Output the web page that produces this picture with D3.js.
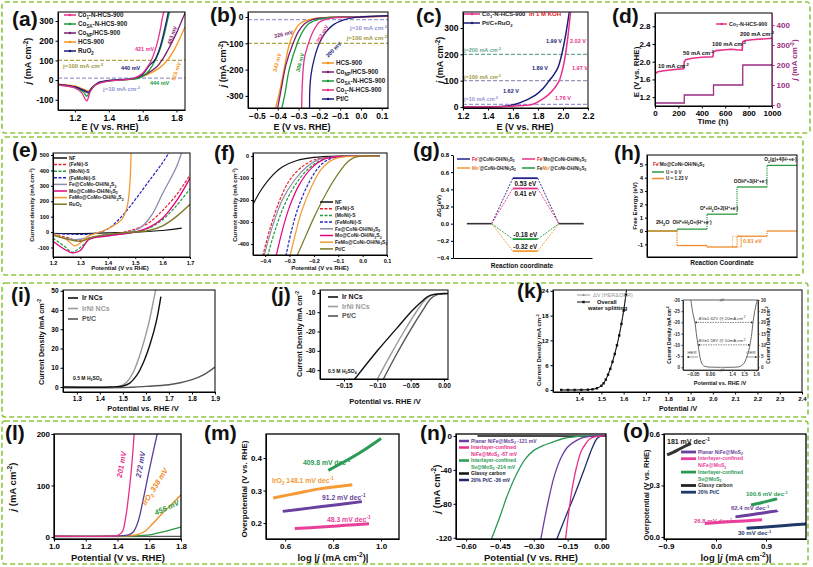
<!DOCTYPE html>
<html><head><meta charset="utf-8">
<script src="https://cdnjs.cloudflare.com/ajax/libs/d3/7.8.5/d3.min.js"></script>
<style>body{margin:0;background:#fff}svg{display:block}</style>
</head><body><script>
// ================= DATA =================
// (a) OER LSV
const aNames=["Co_{1}-N-HCS-900","Co_{SA}-N-HCS-900","Co_{NP}/HCS-900","HCS-900","RuO_{2}"];
const aCo1=[[1.1,-25],[1.15,-30],[1.2,-40],[1.24,-65],[1.27,-105],[1.29,-60],[1.32,-25],[1.4,-5],[1.5,2],[1.55,10],[1.6,35],[1.63,70],[1.651,100],[1.68,170],[1.7,240],[1.72,330],[1.73,360]];
const aCoSA=[[1.1,-25],[1.2,-38],[1.25,-60],[1.27,-82],[1.29,-55],[1.33,-20],[1.4,-5],[1.5,2],[1.58,10],[1.63,40],[1.674,100],[1.7,150],[1.73,240],[1.76,350],[1.77,370]];
const aCoNP=[[1.1,-22],[1.2,-35],[1.26,-58],[1.28,-65],[1.3,-40],[1.34,-15],[1.4,-3],[1.55,8],[1.62,30],[1.68,65],[1.713,100],[1.76,170],[1.8,240],[1.84,320],[1.86,360]];
const aHCS=[[1.1,-20],[1.2,-30],[1.26,-50],[1.28,-55],[1.31,-30],[1.35,-10],[1.45,0],[1.55,6],[1.62,25],[1.7,62],[1.745,100],[1.79,160],[1.85,270]];
const aRuO2=[[1.1,-22],[1.2,-35],[1.26,-55],[1.28,-62],[1.3,-40],[1.34,-12],[1.4,-2],[1.55,10],[1.6,30],[1.64,75],[1.67,100],[1.7,160],[1.73,260],[1.755,360]];
// (b) HER LSV
const bNames=["HCS-900","Co_{NP}/HCS-900","Co_{SA}-N-HCS-900","Co_{1}-N-HCS-900","Pt/C"];
const bHCS=[[-0.41,-345],[-0.39,-280],[-0.37,-200],[-0.343,-100],[-0.32,-55],[-0.3,-30],[-0.27,-15],[-0.22,-5],[-0.15,-1],[0.0,0],[0.13,2]];
const bCoNP=[[-0.40,-345],[-0.38,-260],[-0.36,-180],[-0.326,-100],[-0.3,-55],[-0.27,-25],[-0.23,-9],[-0.17,-3],[-0.1,0],[0.13,3]];
const bCoSA=[[-0.38,-345],[-0.365,-290],[-0.345,-200],[-0.306,-100],[-0.28,-55],[-0.25,-25],[-0.2,-8],[-0.14,-2],[-0.05,0],[0.13,4]];
const bCo1=[[-0.285,-345],[-0.283,-280],[-0.278,-200],[-0.27,-150],[-0.252,-100],[-0.23,-55],[-0.2,-20],[-0.16,-7],[-0.1,-2],[0,0],[0.13,4]];
const bPtC=[[-0.247,-345],[-0.246,-280],[-0.24,-220],[-0.225,-160],[-0.2,-100],[-0.17,-58],[-0.13,-28],[-0.08,-10],[-0.04,-3],[0,0],[0.13,5]];
// (c) overall water splitting
const cCo1=[[1.2,0],[1.5,1],[1.6,3],[1.7,6],[1.76,10],[1.82,25],[1.88,45],[1.93,70],[1.97,100],[2.0,150],[2.02,200],[2.04,270],[2.06,360]];
const cPtRu=[[1.2,0],[1.45,1],[1.55,4],[1.62,10],[1.7,25],[1.78,45],[1.84,70],[1.89,100],[1.93,125],[1.96,150],[1.99,200],[2.02,270],[2.05,360]];
// (d) stability
const dE=[[0,1.72],[20,1.77],[60,1.79],[150,1.82],[245,1.84],[250,2.0],[265,2.05],[320,2.08],[400,2.1],[495,2.11],[500,2.22],[520,2.25],[600,2.27],[650,2.28],[700,2.27],[745,2.26],[750,2.45],[770,2.48],[850,2.5],[950,2.52],[1000,2.53]];
const dJ=[[0,10],[250,10],[250,50],[500,50],[500,100],[750,100],[750,200],[1000,200]];
const dLabels=["10 mA cm^{-2}","50 mA cm^{-2}","100 mA cm^{-2}","200 mA cm^{-2}"];
// (e) OER
const eNames=["NF","(FeNi)-S","(MoNi)-S","(FeMoNi)-S","Fe@CoMo-OH/Ni_{3}S_{2}","Mo@CoMo-OH/Ni_{3}S_{2}","FeMo@CoMo-OH/Ni_{3}S_{2}","RuO_{2}"];
const eNF=[[1.2,-8],[1.3,-10],[1.4,-5],[1.5,0],[1.6,10],[1.67,25]];
const eFeNiS=[[1.2,-15],[1.25,-35],[1.29,-55],[1.33,-40],[1.4,-20],[1.45,-5],[1.5,20],[1.55,60],[1.6,140],[1.65,240],[1.7,370]];
const eMoNiS=[[1.2,-40],[1.24,-90],[1.27,-130],[1.3,-100],[1.34,-40],[1.4,-20],[1.5,0],[1.55,25],[1.6,80],[1.65,170],[1.7,280]];
const eFeMoNiS=[[1.2,-10],[1.28,-15],[1.32,-15],[1.35,-10],[1.4,20],[1.45,100],[1.5,210],[1.55,330],[1.6,450],[1.625,520]];
const eFe=[[1.2,-20],[1.28,-50],[1.32,-40],[1.4,-25],[1.48,0],[1.52,30],[1.56,110],[1.6,250],[1.65,420],[1.67,520]];
const eMo=[[1.2,-60],[1.24,-110],[1.27,-135],[1.3,-120],[1.33,-50],[1.4,-25],[1.5,0],[1.55,30],[1.6,90],[1.65,200],[1.7,350]];
const eFeMo=[[1.2,-10],[1.25,-50],[1.28,-90],[1.3,-70],[1.33,-25],[1.38,5],[1.42,40],[1.45,80],[1.47,160],[1.48,300],[1.485,520]];
const eRuO2=[[1.2,-20],[1.3,-60],[1.35,-30],[1.45,-5],[1.55,10],[1.6,40],[1.65,100],[1.7,180]];
// (f) HER
const fNames=["NF","(FeNi)-S","(MoNi)-S","(FeMoNi)-S","Fe@CoNi-OH/Ni_{3}S_{2}","Mo@CoNi-OH/Ni_{3}S_{2}","FeMo@CoNi-OH/Ni_{3}S_{2}","Pt/C"];
const fNF=[[-0.45,-220],[-0.42,-160],[-0.38,-100],[-0.33,-50],[-0.27,-20],[-0.2,-6],[-0.1,0],[0.07,0]];
const fFeNiS=[[-0.41,-455],[-0.38,-330],[-0.34,-200],[-0.3,-110],[-0.25,-50],[-0.2,-18],[-0.12,-3],[-0.05,0],[0.07,0]];
const fMoNiS=[[-0.39,-455],[-0.36,-340],[-0.32,-220],[-0.27,-120],[-0.22,-55],[-0.17,-18],[-0.1,-3],[0.07,0]];
const fFeMoNiS=[[-0.315,-455],[-0.29,-330],[-0.26,-220],[-0.22,-120],[-0.18,-50],[-0.14,-15],[-0.08,-2],[0.07,0]];
const fFe=[[-0.405,-455],[-0.37,-320],[-0.33,-200],[-0.28,-110],[-0.23,-50],[-0.18,-15],[-0.1,-2],[0.07,0]];
const fMo=[[-0.355,-455],[-0.33,-340],[-0.3,-230],[-0.26,-130],[-0.21,-55],[-0.16,-15],[-0.1,-3],[0.07,0]];
const fFeMo=[[-0.298,-455],[-0.275,-350],[-0.25,-250],[-0.21,-140],[-0.17,-60],[-0.12,-15],[-0.07,-3],[0.07,-2]];
const fPtC=[[-0.27,-455],[-0.24,-380],[-0.2,-280],[-0.15,-170],[-0.1,-80],[-0.06,-25],[-0.03,-5],[0.0,0],[0.07,0]];
// (g) ΔG
const gStages=[0,1,2];
const gNames=["[#d8202a|Fe']@CoNi-OH/Ni_{3}S_{2}","[#d8202a|Fe']Mo@CoNi-OH/Ni_{3}S_{2}","[#e87a20|Mo']@CoNi-OH/Ni_{3}S_{2}","Fe[#e87a20|Mo']@CoNi-OH/Ni_{3}S_{2}"];
const gLevels=[0.53,0.41,-0.32,-0.18];
// (h) free energy
const hSteps=["2H_{2}O","OH*+H_{2}O+(H^{+}+e^{-})","O*+H_{2}O+2(H^{+}+e^{-})","OOH*+3(H^{+}+e^{-})","O_{2}(g)+4(H^{+}+e^{-})"];
const hU0=[0,0.14,1.26,3.3,4.92];
const hU123=[0,-1.09,-1.2,-0.39,0];
// (i) OER acid
const iNames=["Ir NCs","IrNi NCs","Pt/C"];
const iIr=[[1.24,0],[1.45,0],[1.5,0.5],[1.53,2],[1.56,6],[1.59,13],[1.62,23],[1.645,34],[1.665,47]];
const iIrNi=[[1.24,0],[1.45,0],[1.49,0.5],[1.52,3],[1.55,9],[1.58,19],[1.61,32],[1.635,46],[1.645,52]];
const iPtC=[[1.24,-0.4],[1.5,-0.3],[1.6,0.3],[1.7,1.2],[1.75,2.2],[1.8,3.8],[1.85,6.3],[1.9,10.3]];
// (j) HER acid
const jIr=[[-0.137,-46],[-0.1,-30],[-0.07,-18],[-0.05,-10],[-0.035,-5],[-0.025,-2],[-0.015,-0.8],[0,-0.3],[0.01,-0.3]];
const jIrNi=[[-0.102,-46],[-0.08,-32],[-0.06,-20],[-0.04,-9],[-0.028,-3.5],[-0.018,-1.2],[-0.005,-0.5],[0.01,-0.4]];
const jPtC=[[-0.093,-46],[-0.07,-31],[-0.05,-19],[-0.03,-8],[-0.02,-3],[-0.01,-0.9],[0,-0.5],[0.01,-0.4]];
// (k) overall + inset
const kOverall=[[1.32,0],[1.35,0],[1.38,0],[1.41,0.02],[1.44,0.06],[1.46,0.15],[1.48,0.4],[1.5,1.0],[1.51,1.6],[1.52,2.5],[1.53,3.7],[1.54,5.1],[1.55,6.8],[1.56,8.7],[1.57,10.8],[1.58,13.2],[1.59,16.0],[1.6,19.2],[1.61,23.0],[1.615,25]];
const kDeltaV=[[1.32,0],[1.4,0],[1.45,0.1],[1.48,0.45],[1.5,1.1],[1.52,2.6],[1.54,5.2],[1.56,8.8],[1.58,13.3],[1.6,19.3],[1.615,25]];
const kInHER=[[-0.056,30],[-0.05,24],[-0.044,20],[-0.04,15],[-0.035,10],[-0.031,6],[-0.027,3],[-0.022,1.2],[-0.015,0.4],[0,0.1],[0.035,0]];
const kInOER=[[1.317,0],[1.42,0.05],[1.47,0.4],[1.5,1.8],[1.52,4],[1.54,7.5],[1.55,10],[1.565,15],[1.575,20],[1.59,25],[1.61,30]];
// (l) OER
const lLabels=["201 mV","272 mV","IrO_{2} 338 mV","456 mV"];
const lPink=[[1.0,1.5],[1.35,1.5],[1.4,3],[1.43,10],[1.45,35],[1.47,80],[1.49,140],[1.505,200]];
const lPurple=[[1.0,1.5],[1.4,2],[1.47,4],[1.5,10],[1.53,30],[1.56,70],[1.6,130],[1.65,200]];
const lOrange=[[1.0,1.5],[1.45,2],[1.52,4],[1.568,10],[1.62,25],[1.68,45],[1.74,63],[1.8,82]];
const lGreen=[[1.0,1.5],[1.5,2],[1.6,4],[1.686,10],[1.75,15],[1.8,19]];
const lBase=[[1.0,0.5],[1.8,1]];
// (m) Tafel
const mLabels=["409.8 mV dec^{-1}","IrO_{2} 148.1 mV dec^{-1}","91.2 mV dec^{-1}","48.3 mV dec^{-1}"];
const mGreen=[[0.78,0.362],[0.85,0.39],[0.92,0.42],[1.0,0.46]];
const mOrange=[[0.55,0.277],[0.65,0.292],[0.75,0.306],[0.88,0.318]];
const mPurple=[[0.59,0.236],[0.7,0.246],[0.8,0.255],[0.92,0.266]];
const mPink=[[0.64,0.183],[0.75,0.188],[0.85,0.193],[0.95,0.198]];
// (n) HER
const nNames=["Planar NiFe@MoS_{2} -121 mV","Interlayer-confined","NiFe@MoS_{2} -67 mV","Interlayer-confined","Sv@MoS_{2} -214 mV","Glassy carbon","20% Pt/C -36 mV"];
const nGlassy=[[-0.55,0],[-0.2,0],[-0.05,-0.3],[0.02,-0.5]];
const nSv=[[-0.49,-123],[-0.45,-95],[-0.42,-72],[-0.38,-47],[-0.34,-28],[-0.3,-17],[-0.26,-11.5],[-0.214,-7],[-0.17,-3],[-0.12,-1],[-0.05,0],[0.02,0]];
const nPlanar=[[-0.27,-123],[-0.24,-82],[-0.21,-48],[-0.18,-26],[-0.15,-13],[-0.121,-7],[-0.09,-2.5],[-0.05,-0.5],[0.02,0]];
const nInter=[[-0.16,-123],[-0.145,-90],[-0.13,-62],[-0.11,-36],[-0.09,-18],[-0.067,-8],[-0.05,-3],[-0.03,-1],[0.02,0]];
const nPtC=[[-0.2,-123],[-0.16,-96],[-0.12,-70],[-0.08,-42],[-0.05,-20],[-0.036,-11],[-0.02,-3],[-0.005,-0.5],[0.02,0]];
// (o) Tafel
const oLabels=["181 mV dec^{-1}","100.6 mV dec^{-1}","62.4 mV dec^{-1}","26.8 mV dec^{-1}","30 mV dec^{-1}"];
const oNames=["Planar NiFe@MoS_{2}","Interlayer-confined","NiFe@MoS_{2}","Interlayer-confined","Sv@MoS_{2}","Glassy carbon","20% Pt/C"];
const oBlack=[[-0.88,0.478],[-0.7,0.505],[-0.55,0.53],[-0.45,0.545]];
const oGreen=[[0.63,0.186],[0.8,0.198],[0.95,0.21],[1.1,0.222]];
const oPurple=[[0.35,0.117],[0.6,0.128],[0.85,0.14],[1.1,0.152]];
const oPink=[[-0.2,0.078],[0.1,0.085],[0.5,0.093],[0.83,0.1]];
const oNavy=[[0.55,0.05],[0.9,0.058],[1.25,0.067],[1.62,0.076]];

// ================= HELPERS =================
const FONT='"Liberation Sans",Arial,Helvetica,sans-serif';
const svg=d3.select('body').append('svg').attr('width',813).attr('height',567).attr('font-family',FONT);
const defs=svg.append('defs');
function mk(id,c){defs.append('marker').attr('id',id).attr('viewBox','0 0 10 10').attr('refX',9).attr('refY',5)
  .attr('markerWidth',4).attr('markerHeight',4).attr('orient','auto-start-reverse')
  .append('path').attr('d','M0,0L10,5L0,10z').attr('fill',c);}
mk('arK','#333');
let cid=0;
function rich(t,str,fs){
  const re=/([_^])\{([^}]*)\}|\[(#[0-9a-fA-F]{3,6})\|([^\]]*)\]|~([^~]*)~/g;
  let last=0,m,cur=0;
  const add=(s,kind,color,italic)=>{
    const target=kind==='_'?0.28*fs:kind==='^'?-0.38*fs:0;
    const ts=t.append('tspan').text(s);
    const dy=target-cur; if(dy!==0) ts.attr('dy',dy);
    if(kind==='_'||kind==='^') ts.attr('font-size',fs*0.7);
    if(color) ts.attr('fill',color);
    if(italic) ts.attr('font-style','italic');
    cur=target;
  };
  while((m=re.exec(str))!==null){
    if(m.index>last) add(str.slice(last,m.index),'n');
    if(m[1]) add(m[2],m[1]);
    else if(m[3]) add(m[4],'n',m[3]);
    else add(m[5],'n',null,true);
    last=re.lastIndex;
  }
  if(last<str.length) add(str.slice(last),'n');
}
function txt(x,y,str,o={}){
  const fs=o.fs||8;
  const t=svg.append('text').attr('x',x).attr('y',y).attr('font-size',fs).attr('fill',o.fill||'#111')
    .attr('font-weight',o.bold===false?'normal':'bold').attr('text-anchor',o.anchor||'start');
  if(o.italic) t.attr('font-style','italic');
  if(o.rot) t.attr('transform',`rotate(${o.rot},${x},${y})`);
  rich(t,str,fs);
  return t;
}
function styleAxis(a,fs,c){
  c=c||'#000';
  a.attr('font-family',FONT).attr('font-size',fs);
  a.selectAll('text').attr('font-weight','bold').attr('fill',c);
  a.selectAll('line').attr('stroke',c);
  a.select('.domain').attr('stroke',c);
}
function panel(o){
  const x=d3.scaleLinear().domain(o.xd).range([o.l,o.r]);
  const y=d3.scaleLinear().domain(o.yd).range([o.b,o.t]);
  const id='clip'+(cid++);
  defs.append('clipPath').attr('id',id).append('rect').attr('x',o.l).attr('y',o.t).attr('width',o.r-o.l).attr('height',o.b-o.t);
  const plot=svg.append('g').attr('clip-path',`url(#${id})`);
  const fs=o.fs||8, ts=o.ts===undefined?2.5:o.ts;
  if(o.xt){const ax=svg.append('g').attr('transform',`translate(0,${o.b})`)
    .call(d3.axisBottom(x).tickValues(o.xt).tickFormat(o.xf||(d=>d)).tickSizeInner(ts).tickSizeOuter(0).tickPadding(o.tp||2));
    styleAxis(ax,fs);}
  if(o.yt){const ay=svg.append('g').attr('transform',`translate(${o.l},0)`)
    .call(d3.axisLeft(y).tickValues(o.yt).tickFormat(o.yf||(d=>d)).tickSizeInner(ts).tickSizeOuter(0).tickPadding(o.tp||2));
    styleAxis(ay,o.yfs||fs);}
  if(o.frame!==false) svg.append('rect').attr('x',o.l).attr('y',o.t).attr('width',o.r-o.l).attr('height',o.b-o.t)
    .attr('fill','none').attr('stroke','#000').attr('stroke-width',o.fw||1);
  return {x,y,plot,o};
}
const cr=d3.curveCatmullRom.alpha(0.5);
function curve(p,data,c,o={}){
  return p.plot.append('path').datum(data).attr('fill','none').attr('stroke',c).attr('stroke-width',o.w||1.3)
    .attr('stroke-dasharray',o.d||null).attr('stroke-linecap',o.cap||'butt')
    .attr('d',d3.line().x(d=>p.x(d[0])).y(d=>p.y(d[1])).curve(o.curve||cr));
}
function hline(p,v,c,o={}){
  p.plot.append('line').attr('x1',p.o.l).attr('x2',p.o.r).attr('y1',p.y(v)).attr('y2',p.y(v))
    .attr('stroke',c).attr('stroke-width',o.w||1).attr('stroke-dasharray',o.d||'4,2');
}
function legend(x0,y0,dy,items,o={}){
  const len=o.len||12, fs=o.fs||6;
  items.forEach((it,i)=>{
    if(it.c===null) { txt(x0+len+(o.gap||2),y0+i*dy+fs*0.35,it.n,{fs,fill:it.tc||'#222'}); return; }
    const y=y0+i*dy;
    svg.append('line').attr('x1',x0).attr('x2',x0+len).attr('y1',y).attr('y2',y).attr('stroke',it.c)
      .attr('stroke-width',o.sw||1.5).attr('stroke-dasharray',it.d||null);
    if(o.dot) svg.append('circle').attr('cx',x0+len/2).attr('cy',y).attr('r',o.dot).attr('fill',it.c);
    txt(x0+len+(o.gap||2),y+fs*0.35,it.n,{fs,fill:it.tc||o.tc||'#222'});
  });
}
function plabel(x,y,s){txt(x,y,s,{fs:21});}

// ================= GREEN BOXES =================
const GB='#8dc63f';
[[2,2,808,131],[2,137,801,138],[2,283,806,134],[2,421,806,143]].forEach(r=>{
  svg.append('rect').attr('x',r[0]).attr('y',r[1]).attr('width',r[2]).attr('height',r[3]).attr('rx',3)
    .attr('fill','none').attr('stroke',GB).attr('stroke-width',1.6).attr('stroke-dasharray','5,3');
});

// ================= (a) =================
const PINK='#e6318a',GRN='#1a9c3c',PUR='#7d1f6e',ORG='#f7941d',NAVY='#1b1c7a',OLV='#a8a64a',LAV='#9b9bd6';
{
const p=panel({l:58,r:185,t:12,b:110,xd:[1.1,1.85],yd:[-152,346],xt:[1.2,1.4,1.6,1.8],yt:[-100,0,100,200,300],xf:d3.format('.1f'),fs:8.5});
hline(p,100,OLV,{w:1.2});hline(p,10,LAV,{w:1.2});
curve(p,aHCS,ORG);curve(p,aCoNP,PUR);curve(p,aCoSA,GRN);curve(p,aRuO2,NAVY);curve(p,aCo1,PINK);
plabel(12,26,'(a)');
txt(31,61,'~j~ (mA cm^{-2})',{fs:9,anchor:'middle',rot:-90});
txt(110,130,'E (V vs. RHE)',{fs:9,anchor:'middle'});
legend(64,15,9,[{n:aNames[0],c:PINK},{n:aNames[1],c:GRN},{n:aNames[2],c:PUR},{n:aNames[3],c:ORG},{n:aNames[4],c:NAVY}],{fs:6.3,dot:1.3});
txt(63,68,'j=100 mA cm^{-2}',{fs:6,fill:'#a09a40'});
txt(103,91,'j=10 mA cm^{-2}',{fs:6,fill:'#9090d0'});
txt(135,51,'421 mV',{fs:5.5,fill:PINK});
txt(121,70,'440 mV',{fs:5.5,fill:NAVY});
txt(150,85,'444 mV',{fs:5.5,fill:GRN});
txt(174,36,'483 mV',{fs:5.5,fill:PUR,rot:-70,anchor:'middle'});
txt(178,72,'515 mV',{fs:5.5,fill:ORG,rot:-70,anchor:'middle'});
}
// ================= (b) =================
{
const p=panel({l:248,r:388,t:12,b:108,xd:[-0.543,0.13],yd:[-346,19],xt:[-0.5,-0.4,-0.3,-0.2,-0.1,0,0.1],yt:[-300,-200,-100,0],xf:d3.format('.1f'),fs:8.5});
hline(p,-10,LAV,{w:1.2});hline(p,-100,OLV,{w:1.2});
curve(p,bHCS,ORG);curve(p,bCoNP,PUR);curve(p,bCoSA,GRN);curve(p,bCo1,PINK);curve(p,bPtC,NAVY);
plabel(210,22,'(b)');
txt(226,64,'~j~ (mA cm^{-2})',{fs:9,anchor:'middle',rot:-90});
txt(302,130,'E (V vs. RHE)',{fs:9,anchor:'middle'});
legend(322,63,9,[{n:bNames[0],c:ORG},{n:bNames[1],c:PUR},{n:bNames[2],c:GRN},{n:bNames[3],c:PINK},{n:bNames[4],c:NAVY}],{fs:6.3,dot:1.3});
txt(387,30,'j=10 mA cm^{-2}',{fs:6,fill:'#9090d0',anchor:'end'});
txt(387,40,'j=100 mA cm^{-2}',{fs:6,fill:'#a09a40',anchor:'end'});
txt(284,36,'326 mV',{fs:5.5,fill:PUR,rot:-12,anchor:'middle'});
txt(279,63,'343 mV',{fs:5.5,fill:ORG,rot:-75,anchor:'middle'});
txt(302,63,'306 mV',{fs:5.5,fill:GRN,rot:-75,anchor:'middle'});
txt(324,35,'252 mV',{fs:5.5,fill:PINK,rot:-60,anchor:'middle'});
txt(335,51,'200 mV',{fs:5.5,fill:NAVY,rot:-45,anchor:'middle'});
}
// ================= (c) =================
{
const p=panel({l:463,r:588,t:12,b:108,xd:[1.2,2.2],yd:[-4,361],xt:[1.2,1.4,1.6,1.8,2.0,2.2],yt:[0,100,200,300],xf:d3.format('.1f'),fs:8.5});
hline(p,200,'#6aa896',{w:1.2});hline(p,100,'#9a94b8',{w:1.2});hline(p,10,LAV,{w:1.2});
curve(p,cPtRu,NAVY,{w:1.5});curve(p,cCo1,PINK,{w:1.5});
plabel(416,23,'(c)');
txt(443,60,'~j~ (mA cm^{-2})',{fs:9,anchor:'middle',rot:-90});
txt(525,130,'E (V vs. RHE)',{fs:9,anchor:'middle'});
legend(464,14,9,[{n:'Co_{1}-N-HCS-900',c:PINK},{n:'Pt/C+RuO_{2}',c:NAVY}],{fs:6,len:16,dot:1.3});
txt(529,16,'in 1 M KOH',{fs:6,fill:'#e0201f'});
txt(464,52,'j=200 mA cm^{-2}',{fs:5.5,fill:'#6aa896'});
txt(464,79,'j=100 mA cm^{-2}',{fs:5.5,fill:'#a09a40'});
txt(464,101,'j=10 mA cm^{-2}',{fs:5.5,fill:'#9090d0'});
txt(546,43,'1.99 V',{fs:5.5,fill:NAVY});txt(570,43,'2.02 V',{fs:5.5,fill:PINK});
txt(532,70,'1.89 V',{fs:5.5,fill:NAVY});txt(572,70,'1.97 V',{fs:5.5,fill:PINK});
txt(503,93,'1.62 V',{fs:5.5,fill:NAVY});txt(555,100,'1.76 V',{fs:5.5,fill:PINK});
}
// ================= (d) =================
{
const DP='#9b2d82';
const p=panel({l:655,r:772,t:13,b:106,xd:[0,1000],yd:[1.0,3.1],xt:[0,200,400,600,800,1000],yt:[1.2,1.6,2.0,2.4,2.8],yf:d3.format('.1f'),fs:8});
const yR=d3.scaleLinear().domain([-5,460]).range([106,13]);
const ar=svg.append('g').attr('transform','translate(772,0)').call(d3.axisRight(yR).tickValues([0,100,200,300,400]).tickSizeInner(2.5).tickSizeOuter(0).tickPadding(2));
styleAxis(ar,8,DP);
p.plot.append('path').datum(dJ).attr('fill','none').attr('stroke',DP).attr('stroke-width',1.3)
  .attr('d',d3.line().x(d=>p.x(d[0])).y(d=>yR(d[1])));
curve(p,dE,'#e8308a',{w:1.6,curve:d3.curveLinear});
plabel(612,23,'(d)');
txt(639,72,'E (V vs. RHE)',{fs:8,anchor:'middle',rot:-90});
txt(797,60,'~j~ (mA cm^{-2})',{fs:8,anchor:'middle',rot:-90,fill:DP});
txt(713,124,'Time (h)',{fs:8,anchor:'middle'});
legend(716,24,9,[{n:'Co_{1}-N-HCS-900',c:'#e8308a'}],{fs:5.3,len:11,dot:1.2});
txt(658,68,dLabels[0],{fs:5.8});txt(683,55,dLabels[1],{fs:5.8});txt(712,46,dLabels[2],{fs:5.8});txt(740,36,dLabels[3],{fs:5.8});
}
// ================= (e) =================
const EC=['#111','#e8202a','#1e9a3a','#2424c0','#8a8cae','#e4007f','#f39a35','#7a7a26'];
{
const p=panel({l:53,r:190,t:153,b:257,xd:[1.2,1.7],yd:[-162,513],xt:[1.2,1.3,1.4,1.5,1.6,1.7],yt:[-100,0,100,200,300,400,500],xf:d3.format('.1f'),fs:5.5,ts:2});
const sets=[eNF,eFeNiS,eMoNiS,eFeMoNiS,eFe,eMo,eFeMo,eRuO2];
const dash=[null,'3,1.5','3,1.5','3,1.5',null,null,null,null];
sets.forEach((s,i)=>curve(p,s,EC[i],{d:dash[i],w:i>=4?1.3:1.2}));
plabel(12,157,'(e)');
txt(34,205,'Current density (mA cm^{-2})',{fs:6,anchor:'middle',rot:-90});
txt(120,270,'Potential (V vs RHE)',{fs:6,anchor:'middle'});
legend(54,158,6.6,eNames.map((n,i)=>({n,c:EC[i],d:dash[i]})),{fs:5,len:13});
}
// ================= (f) =================
{
const p=panel({l:253,r:387,t:153,b:255,xd:[-0.45,0.1],yd:[-450,14],xt:[-0.4,-0.3,-0.2,-0.1,0,0.1],yt:[-400,-300,-200,-100,0],xf:d3.format('.1f'),fs:5.5,ts:2});
const sets=[fNF,fFeNiS,fMoNiS,fFeMoNiS,fFe,fMo,fFeMo,fPtC];
const dash=[null,'3,1.5','3,1.5','3,1.5',null,null,null,null];
sets.forEach((s,i)=>curve(p,s,EC[i],{d:dash[i],w:1.2}));
plabel(214,160,'(f)');
txt(237,205,'Current density (mA cm^{-2})',{fs:6,anchor:'middle',rot:-90});
txt(320,270,'Potential (V vs RHE)',{fs:6,anchor:'middle'});
legend(320,202,6.7,fNames.map((n,i)=>({n,c:EC[i],d:dash[i]})),{fs:5,len:13});
}
// ================= (g) =================
{
const p=panel({l:453,r:592,t:155,b:258,xd:[-0.57,2.45],yd:[-0.4,0.8],xt:[],yt:[-0.4,-0.2,0,0.2,0.4,0.6,0.8],yf:d3.format('.1f'),fs:6,frame:false,ts:2});
const GC=['#23238a','#e6318a','#f39a35','#1e9a3a'];
const hw=0.27;
[0,2].forEach(s=>p.plot.append('line').attr('x1',p.x(gStages[s]-hw)).attr('x2',p.x(gStages[s]+hw)).attr('y1',p.y(0)).attr('y2',p.y(0)).attr('stroke','#333').attr('stroke-width',1.6));
gLevels.forEach((v,i)=>{
  p.plot.append('line').attr('x1',p.x(gStages[1]-hw)).attr('x2',p.x(gStages[1]+hw)).attr('y1',p.y(v)).attr('y2',p.y(v)).attr('stroke',GC[i]).attr('stroke-width',1.8);
  p.plot.append('path').attr('d',`M${p.x(gStages[0]+hw)},${p.y(0)}L${p.x(gStages[1]-hw)},${p.y(v)}M${p.x(gStages[1]+hw)},${p.y(v)}L${p.x(gStages[2]-hw)},${p.y(0)}`)
    .attr('fill','none').attr('stroke',GC[i]).attr('stroke-width',0.9).attr('stroke-dasharray','2,1.2');
});
const cx=p.x(gStages[1]);
txt(cx,p.y(0.53)+8,'0.53 eV',{fs:6.3,anchor:'middle'});
txt(cx,p.y(0.41)+8,'0.41 eV',{fs:6.3,anchor:'middle'});
txt(cx,p.y(-0.18)-2,'-0.18 eV',{fs:6.3,anchor:'middle'});
txt(cx,p.y(-0.32)-2,'-0.32 eV',{fs:6.3,anchor:'middle'});
plabel(413,157,'(g)');
txt(441,206,'ΔG (eV)',{fs:6,anchor:'middle',rot:-90});
txt(522,268,'Reaction coordinate',{fs:6.5,anchor:'middle'});
legend(457,159,9,[{n:gNames[0],c:GC[0]},{n:gNames[2],c:GC[2]}],{fs:4.6,len:13});
legend(522,159,9,[{n:gNames[1],c:GC[1]},{n:gNames[3],c:GC[3]}],{fs:4.6,len:13});
}
// ================= (h) =================
{
const p=panel({l:647,r:797,t:155,b:257,xd:[0,5],yd:[-1.95,5.7],xt:[],yt:[-1,0,1,2,3,4,5],fs:6,ts:2});
const draw=(lv,c)=>{
  lv.forEach((v,i)=>{
    p.plot.append('line').attr('x1',p.x(i)).attr('x2',p.x(i+1)).attr('y1',p.y(v)).attr('y2',p.y(v)).attr('stroke',c).attr('stroke-width',1.3);
    if(i>0) p.plot.append('line').attr('x1',p.x(i)).attr('x2',p.x(i)).attr('y1',p.y(lv[i-1])).attr('y2',p.y(v)).attr('stroke',c).attr('stroke-width',1.2).attr('stroke-dasharray','1.2,1');
  });
};
draw(hU0,'#2e9a40');draw(hU123,'#f08a2a');
const xm=p.x(3)+4;
svg.append('line').attr('x1',xm).attr('x2',xm).attr('y1',p.y(hU123[2])).attr('y2',p.y(hU123[3])).attr('stroke','#f08a2a').attr('stroke-width',0.8).attr('stroke-dasharray','1.5,1');
svg.append('rect').attr('x',p.x(2.85)).attr('y',p.y(hU123[3])).attr('width',p.x(3.15)-p.x(2.85)).attr('height',p.y(hU123[2])-p.y(hU123[3])).attr('fill','none').attr('stroke','#f08a2a').attr('stroke-width',0.6).attr('stroke-dasharray','1.5,1');
txt(p.x(3)+6,p.y(-0.78)+2,'0.81 eV',{fs:5.5,fill:'#f08a2a'});
txt(p.x(0.3),p.y(0)-7,hSteps[0],{fs:5.5});
txt(p.x(1.5),p.y(hU0[1])-5,hSteps[1],{fs:4.8,anchor:'middle'});
txt(p.x(2.4),p.y(hU0[2])-4,hSteps[2],{fs:4.8,anchor:'middle'});
txt(p.x(3.45),p.y(hU0[3])-4,hSteps[3],{fs:4.8,anchor:'middle'});
txt(p.x(4.45),p.y(hU0[4])-4,hSteps[4],{fs:4.8,anchor:'middle'});
txt(653,166,"[#d8202a|Fe']Mo@CoNi-OH/Ni_{3}S_{2}",{fs:4.8});
legend(652,172,6.5,[{n:'U = 0 V',c:'#2e9a40'},{n:'U = 1.23 V',c:'#f08a2a'}],{fs:4.6,len:12});
plabel(614,160,'(h)');
txt(637,206,'Free Energy (eV)',{fs:6,anchor:'middle',rot:-90});
txt(722,265,'Reaction Coordinate',{fs:6.5,anchor:'middle'});
}
// ================= (i) =================
const IC=['#111','#9a9a9a','#555'];
{
const p=panel({l:63,r:215,t:290,b:392,xd:[1.24,1.9],yd:[-2.6,50.4],xt:[1.3,1.4,1.5,1.6,1.7,1.8,1.9],yt:[0,10,20,30,40,50],xf:d3.format('.1f'),fs:6.5,ts:2.5});
curve(p,iPtC,IC[2],{w:1.4});curve(p,iIrNi,IC[1],{w:1.4});curve(p,iIr,IC[0],{w:1.4});
plabel(11,302,'(i)');
txt(44,342,'Current Density /mA cm^{-2}',{fs:7.2,anchor:'middle',rot:-90});
txt(143,411,'Potential vs. RHE /V',{fs:7.5,anchor:'middle'});
legend(68,298,10.5,iNames.map((n,i)=>({n,c:IC[i],tc:IC[i]})),{fs:7,len:10,gap:4,sw:1.6});
txt(73,380,'0.5 M H_{2}SO_{4}',{fs:5});
}
// ================= (j) =================
{
const p=panel({l:320,r:448,t:290,b:379,xd:[-0.186,0.006],yd:[-44.6,1.5],xt:[-0.15,-0.1,-0.05,0],yt:[-40,-30,-20,-10,0],xf:d3.format('.2f'),fs:6.5,ts:2.5});
curve(p,jPtC,IC[2],{w:1.4});curve(p,jIrNi,IC[1],{w:1.4});curve(p,jIr,IC[0],{w:1.4});
plabel(271,302,'(j)');
txt(302,334,'Current Density /mA cm^{-2}',{fs:7.2,anchor:'middle',rot:-90});
txt(385,404,'Potential vs. RHE /V',{fs:7.5,anchor:'middle'});
legend(328,297,9.5,iNames.map((n,i)=>({n,c:IC[i],tc:IC[i]})),{fs:7,len:10,gap:4,sw:1.6});
txt(328,373,'0.5 M H_{2}SO_{4}',{fs:5});
}
// ================= (k) =================
{
const p=panel({l:553,r:802,t:290,b:392,xd:[1.283,2.4],yd:[-0.5,24.2],xt:[1.4,1.5,1.6,1.7,1.8,1.9,2.0,2.1,2.2,2.3,2.4],yt:[0,6,12,18,24],xf:d3.format('.1f'),fs:6,ts:2.5});
curve(p,kDeltaV,'#999',{w:1});
curve(p,kOverall,'#111',{w:1});
p.plot.selectAll('rect.km').data(kOverall).join('rect').attr('x',d=>p.x(d[0])-1.2).attr('y',d=>p.y(d[1])-1.2).attr('width',2.4).attr('height',2.4).attr('fill','#111');
plabel(517,298,'(k)');
txt(541,350,'Current Density /mA cm^{-2}',{fs:6,anchor:'middle',rot:-90});
txt(678,411,'Potential /V',{fs:7,anchor:'middle'});
svg.append('line').attr('x1',577).attr('x2',590).attr('y1',295).attr('y2',295).attr('stroke','#999').attr('stroke-width',1);
svg.append('path').attr('d','M583.5,293.5l1.5,2.5h-3z').attr('fill','#999');
txt(593,297,'ΔV (HER&OER)',{fs:5.5,fill:'#999',bold:false});
svg.append('line').attr('x1',577).attr('x2',590).attr('y1',302).attr('y2',302).attr('stroke','#111').attr('stroke-width',1);
svg.append('rect').attr('x',582.3).attr('y',300.8).attr('width',2.4).attr('height',2.4).attr('fill','#111');
txt(597,304,'Overall',{fs:5.8});
txt(588,310,'water splitting',{fs:5.8});
// inset
const L=683,R=758,T=300,B=370,XB=722;
const yI=d3.scaleLinear().domain([-1.2,30]).range([B,T]);
const xL=d3.scaleLinear().domain([-0.079,0.035]).range([L,XB]);
const xR=d3.scaleLinear().domain([1.317,1.617]).range([XB,R]);
const id='clip'+(cid++);
defs.append('clipPath').attr('id',id).append('rect').attr('x',L).attr('y',T).attr('width',R-L).attr('height',B-T);
const ip=svg.append('g').attr('clip-path',`url(#${id})`);
ip.append('path').datum(kInHER).attr('fill','none').attr('stroke','#666').attr('stroke-width',1).attr('d',d3.line().x(d=>xL(d[0])).y(d=>yI(d[1])).curve(cr));
ip.append('path').datum(kInOER).attr('fill','none').attr('stroke','#666').attr('stroke-width',1).attr('d',d3.line().x(d=>xR(d[0])).y(d=>yI(d[1])).curve(cr));
const a1=svg.append('g').attr('transform',`translate(${L},0)`).call(d3.axisLeft(yI).tickValues([0,5,10,15,20,25,30]).tickFormat(d=>d?'-'+d:'0').tickSizeInner(1.5).tickSizeOuter(0).tickPadding(1.5));
styleAxis(a1,4.5,'#333');
const a2=svg.append('g').attr('transform',`translate(${R},0)`).call(d3.axisRight(yI).tickValues([0,5,10,15,20,25,30]).tickSizeInner(1.5).tickSizeOuter(0).tickPadding(1.5));
styleAxis(a2,4.5,'#333');
const a3=svg.append('g').attr('transform',`translate(0,${B})`).call(d3.axisBottom(xL).tickValues([-0.05,0]).tickFormat(d3.format('.2f')).tickSizeInner(1.5).tickSizeOuter(0).tickPadding(1.5));
styleAxis(a3,4.8,'#333');
const a4=svg.append('g').attr('transform',`translate(0,${B})`).call(d3.axisBottom(xR).tickValues([1.4,1.5,1.6]).tickFormat(d3.format('.1f')).tickSizeInner(1.5).tickSizeOuter(0).tickPadding(1.5));
styleAxis(a4,4.8,'#333');
svg.append('rect').attr('x',L).attr('y',T).attr('width',R-L).attr('height',B-T).attr('fill','none').attr('stroke','#333').attr('stroke-width',0.8);
[T,B].forEach(yy=>svg.append('path').attr('d',`M${XB-2},${yy+1.5}l2,-3M${XB},${yy+1.5}l2,-3`).attr('stroke','#333').attr('stroke-width',0.6));
[[20,-0.044,1.575],[10,-0.035,1.55]].forEach(([v,a,b])=>{
  svg.append('line').attr('x1',xL(a)).attr('x2',xR(b)).attr('y1',yI(v)).attr('y2',yI(v)).attr('stroke','#333').attr('stroke-width',0.6).attr('stroke-dasharray','1.5,1')
    .attr('marker-start','url(#arK)').attr('marker-end','url(#arK)');
});
txt(722,yI(20)-2.5,'ΔV=1.62V @ 20mA cm^{-2}',{fs:4.3,anchor:'middle',bold:false,fill:'#333'});
txt(722,yI(10)-2.5,'ΔV=1.58V @ 10mA cm^{-2}',{fs:4.3,anchor:'middle',bold:false,fill:'#333'});
svg.append('line').attr('x1',698).attr('x2',687).attr('y1',357).attr('y2',357).attr('stroke','#555').attr('stroke-width',0.6).attr('marker-end','url(#arK)');
svg.append('line').attr('x1',746).attr('x2',757).attr('y1',357).attr('y2',357).attr('stroke','#555').attr('stroke-width',0.6).attr('marker-end','url(#arK)');
txt(692,354,'HER',{fs:4.3,anchor:'middle',bold:false,fill:'#444'});
txt(751,354,'OER',{fs:4.3,anchor:'middle',bold:false,fill:'#444'});
txt(671,335,'Current Density /mA cm^{-2}',{fs:4.8,anchor:'middle',rot:-90});
txt(770,335,'Current Density /mA cm^{-2}',{fs:4.8,anchor:'middle',rot:-90});
txt(720,385,'Potential vs. RHE /V',{fs:5.5,anchor:'middle'});
}
// ================= ROW 4 =================
const R4={fs:8,tp:1.5,fw:1.3};
const XLY=561;
// (l)
const LP='#e8308a',LU='#5b3c9b',LO='#f28a1e',LG='#2a9a45';
{
const p=panel(Object.assign({l:54,r:181,t:434,b:539,xd:[1.0,1.8],yd:[-4,200],xt:[1.0,1.2,1.4,1.6,1.8],yt:[0,100,200],xf:d3.format('.1f')},R4));
curve(p,lBase,'#555',{w:1.2,curve:d3.curveLinear});
curve(p,lGreen,LG,{w:1.3});curve(p,lOrange,LO,{w:1.3});curve(p,lPurple,LU,{w:1.3});curve(p,lPink,LP,{w:1.3});
plabel(5,440,'(l)');
txt(16,487,'~j~ (mA cm^{-2})',{fs:9.5,anchor:'middle',rot:-90});
txt(118,XLY,'Potential (V vs. RHE)',{fs:9.5,anchor:'middle'});
txt(124,465,lLabels[0],{fs:7.5,fill:LP,rot:-80,anchor:'middle',italic:true});
txt(143,465,lLabels[1],{fs:7.5,fill:LU,rot:-80,anchor:'middle',italic:true});
txt(157,488,lLabels[2],{fs:7.5,fill:LO,rot:-58,anchor:'middle',italic:true});
txt(168,510,lLabels[3],{fs:7.5,fill:LG,rot:-25,anchor:'middle',italic:true});
}
// (m)
{
const p=panel(Object.assign({l:266,r:399,t:434,b:539,xd:[0.52,1.075],yd:[0.151,0.474],xt:[0.6,0.8,1.0],yt:[0.2,0.3,0.4],xf:d3.format('.1f'),yf:d3.format('.1f')},R4));
curve(p,mGreen,'#2a9a55',{w:3});curve(p,mOrange,'#f59a35',{w:3});curve(p,mPurple,'#6a3fa0',{w:3});curve(p,mPink,'#e8409a',{w:3});
plabel(204,440,'(m)');
txt(247,489,'Overpotential (V vs. RHE)',{fs:8,anchor:'middle',rot:-90});
txt(333,XLY,'log |~j~ (mA cm^{-2})|',{fs:9.5,anchor:'middle'});
txt(303,465,mLabels[0],{fs:6.8,fill:'#2a9a55'});
txt(272,483,mLabels[1],{fs:6.8,fill:'#f59a35'});
txt(322,500,mLabels[2],{fs:6.8,fill:'#6a3fa0'});
txt(327,522,mLabels[3],{fs:6.8,fill:'#e8409a'});
}
// (n)
const NC={planar:'#6a3fa0',inter:'#e8308a',sv:'#2a9a55',gc:'#111',pt:'#1f2a6a'};
{
const p=panel(Object.assign({l:456,r:606,t:434,b:539,xd:[-0.645,0.02],yd:[-121.5,2.3],xt:[-0.6,-0.45,-0.3,-0.15,0],yt:[-120,-80,-40,0],xf:d3.format('.2f')},R4));
curve(p,nGlassy,NC.gc,{w:1.5});curve(p,nSv,NC.sv,{w:1.3});curve(p,nPlanar,NC.planar,{w:1.3});curve(p,nPtC,NC.pt,{w:1.3});curve(p,nInter,NC.inter,{w:1.3});
plabel(420,440,'(n)');
txt(440,489,'~j~ (mA cm^{-2})',{fs:9.5,anchor:'middle',rot:-90});
txt(531,XLY,'Potential (V vs. RHE)',{fs:9.5,anchor:'middle'});
legend(459,441,6.5,[{n:nNames[0],c:NC.planar,tc:NC.planar},{n:nNames[1],c:NC.inter,tc:NC.inter},{n:nNames[2],c:null,tc:NC.inter},{n:nNames[3],c:NC.sv,tc:NC.sv},{n:nNames[4],c:null,tc:NC.sv},{n:nNames[5],c:NC.gc,tc:NC.gc},{n:nNames[6],c:NC.pt,tc:NC.pt}],{fs:5,len:10,sw:2.5});
}
// (o)
{
const p=panel(Object.assign({l:664,r:806,t:434,b:539,xd:[-0.936,1.62],yd:[-0.012,0.6],xt:[-0.9,0,0.9],yt:[0,0.3,0.6],xf:d3.format('.1f'),yf:d3.format('.1f')},R4,{yfs:7.5}));
curve(p,oBlack,'#333',{w:3});curve(p,oGreen,'#2a9a55',{w:3});curve(p,oPurple,'#6a3fa0',{w:3});curve(p,oPink,'#e8409a',{w:3});curve(p,oNavy,'#1f3a6a',{w:3});
plabel(623,438,'(o)');
txt(649,495,'Overpotential (V vs. RHE)',{fs:7.5,anchor:'middle',rot:-90});
txt(736,XLY,'log |~j~ (mA cm^{-2})|',{fs:9.5,anchor:'middle'});
txt(667,444,oLabels[0],{fs:7,fill:'#222'});
txt(746,496,oLabels[1],{fs:6,fill:'#2a9a55'});
txt(731,510,oLabels[2],{fs:6,fill:'#6a3fa0'});
txt(694,523,oLabels[3],{fs:6,fill:'#e8409a'});
txt(738,535,oLabels[4],{fs:6,fill:'#1f3a6a'});
legend(681,452,6.7,[{n:oNames[0],c:'#6a3fa0',tc:'#6a3fa0'},{n:oNames[1],c:'#e8409a',tc:'#e8409a'},{n:oNames[2],c:null,tc:'#e8409a'},{n:oNames[3],c:'#2a9a55',tc:'#2a9a55'},{n:oNames[4],c:null,tc:'#2a9a55'},{n:oNames[5],c:'#222',tc:'#222'},{n:oNames[6],c:'#1f3a6a',tc:'#1f3a6a'}],{fs:5,len:15,sw:2.8});
}
</script></body></html>
